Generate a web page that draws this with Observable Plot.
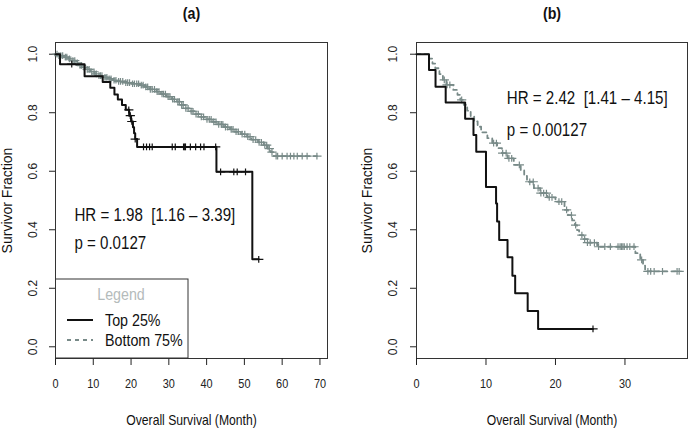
<!DOCTYPE html>
<html><head><meta charset="utf-8">
<script src="https://cdn.jsdelivr.net/npm/d3@7"></script>
<script src="https://cdn.jsdelivr.net/npm/@observablehq/plot@0.6"></script>
<style>
body{margin:0;background:#fff;}
#wrap{position:relative;width:688px;height:428px;}
#wrap svg{position:absolute;top:0;}
</style></head><body><div id="wrap"></div>
<script>
// ---------- data ----------
const panelTitles = ["(a)", "(b)"];
const xLabel = "Overall Survival (Month)";
const yLabel = "Survivor Fraction";
const yTicks = [0, 0.2, 0.4, 0.6, 0.8, 1.0];
const xTicksA = [0, 10, 20, 30, 40, 50, 60, 70];
const xTicksB = [0, 10, 20, 30];
const xMaxA = 72, xMaxB = 39;
const seriesNames = ["Top 25%", "Bottom 75%"];
const legendTitle = "Legend";

// Panel (a) Top 25%
const aTopTime = [0, 1.2, 7.7, 12.5, 14.5, 15.6, 16.5, 17.6, 18.6, 19.5, 20.0, 20.5, 20.8, 21.1, 21.6, 42.6, 52.1, 53.8];
const aTopSurv = [1.0, 0.966, 0.925, 0.905, 0.885, 0.862, 0.845, 0.826, 0.81, 0.79, 0.77, 0.75, 0.73, 0.71, 0.683, 0.598, 0.299, 0.299];
const aTopCensor = [4.3, 19.4, 19.8, 20.2, 21.1, 23.3, 24.1, 24.9, 25.6, 30.9, 31.7, 33.9, 34.2, 34.4, 35.7, 37.1, 38.4, 39.3, 42.4, 43.7, 47.2, 48.1, 50.3, 53.8];
// Panel (a) Bottom 75%
const aBotTime = [0, 0.8, 2.1, 3.4, 4.2, 5.5, 6.1, 7.3, 8.0, 9.2, 10.4, 11.1, 12.6, 13.8, 15.3, 16.2, 18.4, 20.1, 22.3, 23.6, 24.8, 26.7, 27.9, 29.4, 30.8, 32.1, 33.0, 34.2, 35.6, 36.9, 38.3, 39.8, 41.6, 42.9, 44.6, 46.2, 47.4, 49.1, 50.7, 51.8, 53.6, 55.1, 56.2, 57.0, 57.8, 69.2];
const aBotSurv = [1.0, 0.995, 0.99, 0.984, 0.978, 0.97, 0.962, 0.955, 0.948, 0.94, 0.933, 0.927, 0.921, 0.916, 0.911, 0.907, 0.903, 0.899, 0.894, 0.888, 0.88, 0.872, 0.864, 0.855, 0.846, 0.838, 0.827, 0.815, 0.805, 0.795, 0.786, 0.777, 0.769, 0.76, 0.751, 0.743, 0.735, 0.727, 0.718, 0.708, 0.699, 0.689, 0.677, 0.665, 0.652, 0.652];
const aBotCensor = [0.4, 0.9, 1.4, 1.9, 2.6, 3.0, 3.7, 4.6, 5.1, 5.8, 6.5, 6.9, 7.6, 8.4, 8.9, 9.6, 10.2, 10.8, 11.5, 11.9, 12.3, 13.1, 13.6, 14.2, 14.7, 15.5, 16.0, 16.7, 17.2, 17.8, 18.6, 19.1, 19.6, 20.4, 20.9, 21.5, 22.0, 22.7, 23.2, 23.9, 24.4, 25.1, 25.6, 26.2, 26.9, 27.4, 28.2, 28.6, 29.1, 29.8, 30.3, 31.0, 31.5, 32.4, 32.8, 33.4, 33.8, 34.5, 35.1, 35.9, 36.4, 37.2, 37.8, 38.6, 39.2, 40.1, 40.7, 41.2, 41.9, 42.5, 43.2, 43.9, 44.3, 45.0, 45.6, 46.5, 47.0, 47.8, 48.4, 49.4, 50.1, 50.9, 51.5, 52.3, 53.0, 53.9, 54.5, 55.4, 55.9, 56.6, 57.3, 58.4, 58.8, 60.0, 61.3, 62.2, 63.1, 64.0, 65.3, 66.6, 69.2];

// Panel (b) Top 25%
const bTopTime = [0, 1.8, 2.74, 4.2, 7.0, 8.2, 8.6, 10.0, 11.45, 11.6, 11.9, 13.1, 13.8, 14.2, 16.0, 17.5, 25.4];
const bTopSurv = [1.0, 0.946, 0.889, 0.835, 0.779, 0.724, 0.667, 0.546, 0.49, 0.428, 0.365, 0.306, 0.243, 0.183, 0.122, 0.061, 0.061];
const bTopCensor = [25.4];
// Panel (b) Bottom 75%
const bBotTime = [0, 1.8, 2.3, 2.7, 3.3, 3.8, 4.3, 5.3, 5.9, 6.3, 6.8, 7.3, 7.8, 8.3, 8.8, 9.3, 10.2, 10.9, 11.6, 12.3, 13.1, 14.0, 15.0, 15.5, 15.9, 16.9, 17.8, 18.8, 20.0, 21.3, 21.8, 22.4, 22.8, 23.1, 23.4, 24.0, 24.6, 26.0, 31.5, 32.2, 32.6, 32.9, 37.8];
const bBotSurv = [1.0, 0.985, 0.968, 0.952, 0.932, 0.912, 0.895, 0.878, 0.861, 0.844, 0.827, 0.807, 0.787, 0.77, 0.752, 0.733, 0.713, 0.696, 0.679, 0.662, 0.644, 0.622, 0.604, 0.584, 0.564, 0.542, 0.525, 0.511, 0.496, 0.468, 0.45, 0.432, 0.416, 0.399, 0.382, 0.368, 0.356, 0.342, 0.32, 0.297, 0.277, 0.258, 0.258];
const bBotCensor = [4.0, 4.4, 4.8, 6.5, 11.1, 11.5, 12.4, 12.9, 13.3, 13.7, 14.8, 16.3, 16.8, 17.5, 17.9, 18.3, 18.7, 19.1, 19.5, 20.5, 20.9, 21.6, 22.3, 22.9, 23.8, 24.2, 24.6, 25.0, 25.6, 26.2, 27.1, 27.9, 29.0, 29.3, 29.5, 29.7, 29.9, 30.3, 30.7, 31.3, 32.4, 33.3, 33.7, 34.2, 35.4, 37.5, 37.8];

// Statistics annotations
const aStats = ["HR = 1.98\u00a0\u00a0[1.16 \u2013 3.39]", "p = 0.0127"];
const aStatsX = 5.0, aStatsY = [0.451, 0.354];
const bStats = ["HR = 2.42\u00a0\u00a0[1.41 \u2013 4.15]", "p = 0.00127"];
const bStatsX = 13.0, bStatsY = [0.85, 0.741];

// ---------- styles ----------
const FONT = "'Liberation Sans', Arial, sans-serif";
const SQUEEZE = 0.84; // horizontal text in the reference is condensed
const BLACK = "#111";
const GRAY = "#788a88";
const FRAME = "#333";

const plusSym = {draw(ctx, size) {
  const r = Math.sqrt(size / Math.PI);
  ctx.moveTo(-r * 1.1, 0); ctx.lineTo(r * 1.1, 0);
  ctx.moveTo(0, -r * 0.8); ctx.lineTo(0, r * 0.8);
}};

function steps(times, survs) { return times.map((t, i) => ({t, s: survs[i]})); }
function censorPts(cens, times, survs) {
  return cens.map(c => {
    let s = survs[0];
    for (let i = 0; i < times.length; i++) if (times[i] <= c) s = survs[i];
    return {t: c, s};
  });
}

function panel({title, xMax, xTicks, marginLeft, marginRight, top, bot, stats, statsX, statsY, tickDx, labelDx}) {
  return Plot.plot({
    width: 344, height: 428,
    marginLeft, marginRight, marginTop: 42, marginBottom: 70,
    x: {domain: [0, xMax]},
    y: {domain: [-0.04, 1.04]},
    style: {fontFamily: FONT, fontSize: "13px", color: "#222", background: "transparent", overflow: "visible"},
    marks: [
      Plot.frame({stroke: FRAME, strokeWidth: 1}),
      Plot.axisX({ticks: xTicks, tickSize: 7, tickPadding: 13, label: null, tickFormat: d => String(d)}),
      Plot.axisY({ticks: yTicks, tickSize: 6, label: null, tickFormat: () => ""}),
      Plot.text(yTicks, {y: d => d, text: d => d.toFixed(1), frameAnchor: "left", dx: tickDx, rotate: -90, textAnchor: "middle", lineAnchor: "middle", fontSize: 12, fill: "#222"}),
      // Bottom 75% (gray dashed)
      Plot.line(steps(bot.time, bot.surv), {x: "t", y: "s", curve: "step-after", stroke: GRAY, strokeWidth: 1.8, strokeDasharray: "4,4"}),
      Plot.dot(censorPts(bot.cens, bot.time, bot.surv), {x: "t", y: "s", symbol: plusSym, r: 4.2, stroke: GRAY, fill: "none", strokeWidth: 1.2}),
      // Top 25% (black solid)
      Plot.line(steps(top.time, top.surv), {x: "t", y: "s", curve: "step-after", stroke: BLACK, strokeWidth: 2}),
      Plot.dot(censorPts(top.cens, top.time, top.surv), {x: "t", y: "s", symbol: plusSym, r: 4.2, stroke: BLACK, fill: "none", strokeWidth: 1.2}),
      // stats
      Plot.text(stats, {x: () => statsX, y: (d, i) => statsY[i], text: d => d, textAnchor: "start", fontSize: 18, fill: "#111"}),
      // labels
      Plot.text([title], {text: d => d, frameAnchor: "top", dy: -29, lineAnchor: "middle", fontWeight: "bold", fontSize: 17, fill: "#111"}),
      Plot.text([xLabel], {text: d => d, frameAnchor: "bottom", dy: 62, lineAnchor: "middle", fontSize: 14.5, fill: "#111"}),
      Plot.text([yLabel], {text: d => d, frameAnchor: "left", dx: labelDx, rotate: -90, textAnchor: "middle", lineAnchor: "middle", fontSize: 14, fill: "#111"})
    ]
  });
}

const plotA = panel({
  title: panelTitles[0], xMax: xMaxA, xTicks: xTicksA, marginLeft: 55, marginRight: 17,
  top: {time: aTopTime, surv: aTopSurv, cens: aTopCensor},
  bot: {time: aBotTime, surv: aBotSurv, cens: aBotCensor},
  stats: aStats, statsX: aStatsX, statsY: aStatsY, tickDx: -22, labelDx: -48
});
const plotB = panel({
  title: panelTitles[1], xMax: xMaxB, xTicks: xTicksB, marginLeft: 72, marginRight: 1,
  top: {time: bTopTime, surv: bTopSurv, cens: bTopCensor},
  bot: {time: bBotTime, surv: bBotSurv, cens: bBotCensor},
  stats: bStats, statsX: bStatsX, statsY: bStatsY, tickDx: -23, labelDx: -49
});

const wrap = document.getElementById("wrap");
plotA.style.left = "0px";
plotB.style.left = "344px";
wrap.appendChild(plotA);
wrap.appendChild(plotB);

// Legend box inside panel (a), bottom-left corner of the frame
const sA = d3.select(plotA);
const lg = sA.append("g").attr("font-family", FONT).attr("text-anchor", "start");
lg.append("rect").attr("x", 55.5).attr("y", 279).attr("width", 132.5).attr("height", 79)
  .attr("fill", "white").attr("stroke", FRAME).attr("stroke-width", 1);
lg.append("text").attr("x", 121).attr("y", 294).attr("text-anchor", "middle").attr("dy", "0.35em")
  .attr("font-size", 17).attr("fill", "#b4bbbb").text(legendTitle);
const legendRows = [
  {name: seriesNames[0], color: BLACK, dash: null, w: 2, y: 320},
  {name: seriesNames[1], color: GRAY, dash: "4,4", w: 1.8, y: 340}
];
legendRows.forEach(r => {
  lg.append("line").attr("x1", 67).attr("x2", 93).attr("y1", r.y).attr("y2", r.y)
    .attr("stroke", r.color).attr("stroke-width", r.w).attr("stroke-dasharray", r.dash);
  lg.append("text").attr("x", 105).attr("y", r.y).attr("dy", "0.35em").attr("text-anchor", "start")
    .attr("font-size", 17).attr("fill", "#111").text(r.name);
});

// Condense horizontal texts (scale about each text's anchor point)
document.querySelectorAll("#wrap svg text").forEach(t => {
  const tr = t.getAttribute("transform") || "";
  const ptr = (t.parentNode && t.parentNode.getAttribute && t.parentNode.getAttribute("transform")) || "";
  if (tr.includes("rotate") || ptr.includes("rotate")) return;
  const xs = t.getAttribute("x");
  let tx = 0;
  if (xs !== null && /^-?[\d.]+$/.test(xs.trim())) { tx = +xs; t.removeAttribute("x"); }
  t.setAttribute("transform", `${tr} translate(${tx},0) scale(${SQUEEZE},1)`);
});
</script>
</body></html>
